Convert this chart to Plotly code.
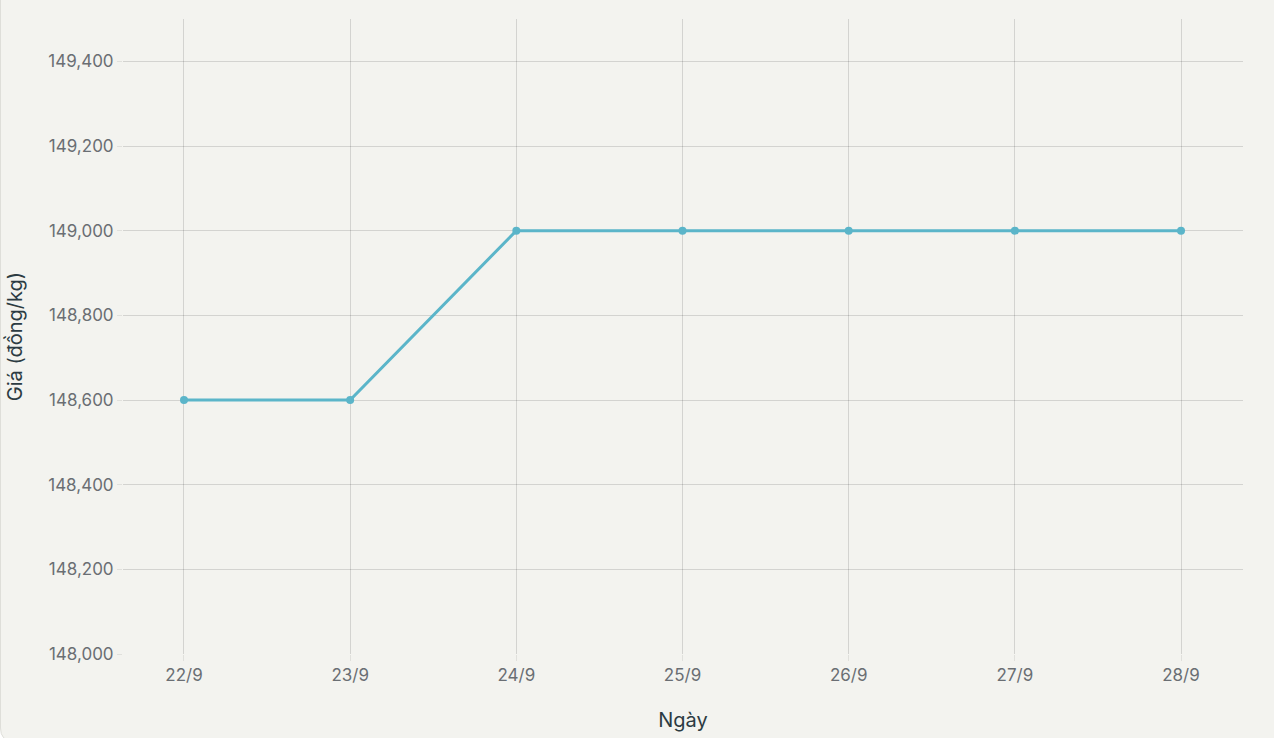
import plotly.graph_objects as go

dates = ["22/9", "23/9", "24/9", "25/9", "26/9", "27/9", "28/9"]
prices = [148600, 148600, 149000, 149000, 149000, 149000, 149000]
y_ticks = [148000, 148200, 148400, 148600, 148800, 149000, 149200, 149400]

W, H = 1274, 738
ML, MR, MT, MB = 123, 31, 19, 84
PW, PH = W - ML - MR, H - MT - MB

def px(x):
    return (x - ML) / PW

def py(y):
    return (H - MB - y) / PH

r = 13
yb = 741
path = (f"M {px(0.5)},{py(-5)} L {px(1290)},{py(-5)} L {px(1290)},{py(yb)} "
        f"L {px(r)},{py(yb)} Q {px(0.5)},{py(yb)} {px(0.5)},{py(yb - r)} Z")

fig = go.Figure()
fig.add_trace(go.Scatter(
    x=list(range(len(dates))), y=prices, mode="lines+markers",
    line=dict(color="#5BB5C9", width=3),
    marker=dict(color="#5BB5C9", size=8),
    hoverinfo="skip", showlegend=False,
))

fig.add_shape(type="path", path=path, xref="paper", yref="paper",
              fillcolor="#F3F3EF", line=dict(color="#DEDED9", width=1), layer="below")

grid = "rgba(0,0,0,0.13)"
fig.update_layout(
    width=W, height=H,
    margin=dict(l=ML, r=MR, t=MT, b=MB),
    paper_bgcolor="white", plot_bgcolor="rgba(0,0,0,0)",
    font=dict(family="Inter, sans-serif", size=17, color="#6A6E73"),
    xaxis=dict(
        range=[-0.367, 6.373], tickmode="array",
        tickvals=list(range(len(dates))), ticktext=dates,
        showgrid=True, gridcolor=grid, gridwidth=1,
        ticks="outside", ticklen=6, tickcolor="rgba(0,0,0,0.08)",
        zeroline=False, showline=False,
        title=dict(text="Ngày", font=dict(size=20, color="#2C3B42"), standoff=28),
    ),
    yaxis=dict(
        range=[148000, 149500], tickvals=y_ticks, tickformat=",",
        showgrid=True, gridcolor=grid, gridwidth=1,
        ticks="outside", ticklen=5, tickcolor="rgba(0,0,0,0.08)",
        zeroline=False, showline=False,
        title=dict(text="Giá (đồng/kg)", font=dict(size=20, color="#2C3B42"), standoff=20),
    ),
)

fig.write_html("out.html", config={"displayModeBar": False},
               post_script="document.body.style.margin='0';")
